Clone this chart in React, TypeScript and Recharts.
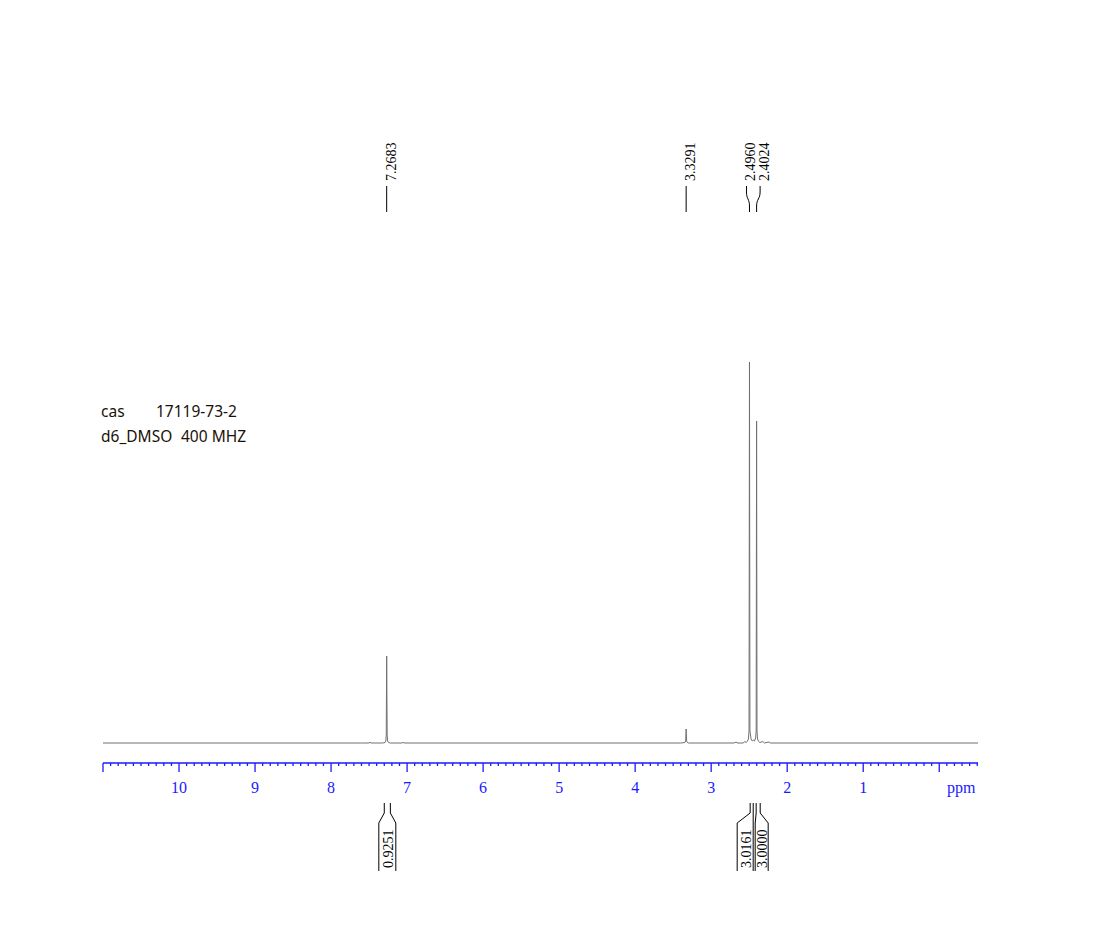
import React from 'react';
import { LineChart, Line, XAxis, YAxis, ReferenceDot, ReferenceArea } from 'recharts';

// Spectrum (chemical shift in ppm, relative intensity)
const PPM = [11.0, 7.6, 7.5, 7.49, 7.48, 7.32, 7.29, 7.28, 7.274, 7.2683, 7.262, 7.256, 7.245, 7.22, 7.06, 7.05, 7.04,
  3.40, 3.345, 3.335, 3.3291, 3.323, 3.313, 3.30,
  2.70, 2.67, 2.66, 2.58, 2.555, 2.54, 2.525, 2.51, 2.502, 2.496, 2.490, 2.475, 2.46, 2.445, 2.43, 2.415, 2.408, 2.4024, 2.397, 2.39, 2.375, 2.36, 2.32, 2.30, 2.24, 2.22,
  -0.51];
const INTENSITY = [0, 0, 0, 1, 0, 0, 0.5, 2, 8, 87, 8, 2, 0.5, 0, 0, 1, 0,
  0, 0.5, 2, 14, 2, 0.5, 0,
  0, 1, 0, 0, 1.5, 0.5, 1.5, 4, 12, 381, 12, 4, 2, 3, 2, 5, 12, 322, 12, 4, 1.5, 0.5, 1.5, 0, 1, 0,
  0];

// Peak picking labels
const PEAK_PPM = [7.2683, 3.3291, 2.4960, 2.4024];
const PEAK_LABELS = ['7.2683', '3.3291', '2.4960', '2.4024'];

// Integrals
const INTEGRAL_FROM = [7.30, 2.487, 2.408];
const INTEGRAL_TO = [7.22, 2.447, 2.355];
const INTEGRAL_VALUES = ['0.9251', '3.0161', '3.0000'];

// Axis
const MAJOR_TICK_LABELS = [10, 9, 8, 7, 6, 5, 4, 3, 2, 1];
const AXIS_UNIT = 'ppm';
const TICKS = Array.from({ length: 116 }, (_, i) => Math.round((11 - i * 0.1) * 10) / 10);

// Header text
const INFO_LINE1 = ['cas', '17119-73-2'];
const INFO_LINE2 = ['d6_DMSO', '400 MHZ'];

// styling (not data)
const PEAK_LABEL_SHIFT = [0, 0, -3, 3.5];
const INTEGRAL_DX = [0, -6.5, 3.5];
const INTEGRAL_HALF = [8.5, 8, 6.5];
const BLUE = '#1a1aff';
const SERIF = "'Liberation Serif', 'Times New Roman', serif";

const data = PPM.map((p, i) => ({ ppm: p, v: INTENSITY[i] }));

const AxisTick = (props: any) => {
  const { x, y, payload } = props;
  const v = payload.value as number;
  const r = Math.round(v);
  const isInt = Math.abs(v - r) < 1e-6;
  const len = isInt ? 9 : 3;
  return (
    <g>
      <line x1={x} x2={x} y1={y} y2={y + len} stroke={BLUE} strokeWidth={1.3} />
      {isInt && MAJOR_TICK_LABELS.includes(r) && (
        <text x={x} y={y + 30} textAnchor="middle" fontFamily={SERIF} fontSize={16} fill={BLUE}>
          {r}
        </text>
      )}
      {isInt && r === 0 && (
        <text x={x + 22} y={y + 30} textAnchor="middle" fontFamily={SERIF} fontSize={16} fill={BLUE}>
          {AXIS_UNIT}
        </text>
      )}
    </g>
  );
};

const PeakMark = ({ cx, cy, label, shift }: any) => {
  const top = cy - 557;
  const bottom = cy - 531;
  const lx = cx + shift;
  const d = shift === 0
    ? `M ${cx} ${top} L ${cx} ${bottom}`
    : `M ${lx} ${top} L ${lx} ${top + 6} C ${lx} ${top + 13}, ${cx} ${bottom - 13}, ${cx} ${bottom - 6} L ${cx} ${bottom}`;
  return (
    <g>
      <path d={d} stroke="#000" strokeWidth={1} fill="none" />
      <text
        x={lx + 9}
        y={top - 5}
        transform={`rotate(-90 ${lx + 9} ${top - 5})`}
        textAnchor="start"
        fontFamily={SERIF}
        fontSize={14}
        fill="#000"
      >
        {label}
      </text>
    </g>
  );
};

const IntegralMark = ({ x, y, width, height, value, dx, half }: any) => {
  const axisY = y + height;
  const xl = x;
  const xr = x + width;
  const c = (xl + xr) / 2 + dx;
  const y0 = axisY + 40;
  const y1 = axisY + 50;
  const y2 = axisY + 60;
  const y3 = axisY + 108;
  const d = `M ${xl} ${y0} L ${xl} ${y1} L ${c - half} ${y2} L ${c - half} ${y3} M ${xr} ${y0} L ${xr} ${y1} L ${c + half} ${y2} L ${c + half} ${y3}`;
  return (
    <g>
      <path d={d} stroke="#000" strokeWidth={1} fill="none" />
      <text
        x={c + 5.5}
        y={axisY + 105}
        transform={`rotate(-90 ${c + 5.5} ${axisY + 105})`}
        textAnchor="start"
        fontFamily={SERIF}
        fontSize={14}
        fill="#000"
      >
        {value}
      </text>
    </g>
  );
};

export default function App() {
  return (
    <div style={{ position: 'absolute', left: 0, top: 0, width: 1108, height: 952, background: '#fff' }}>
      <LineChart
        width={1108}
        height={952}
        data={data}
        margin={{ top: 130, right: 130, bottom: 149, left: 103 }}
      >
        <XAxis
          dataKey="ppm"
          type="number"
          domain={[-0.51, 11]}
          allowDataOverflow
          reversed
          ticks={TICKS}
          interval={0}
          tick={<AxisTick />}
          tickLine={false}
          tickSize={0}
          tickMargin={0}
          axisLine={{ stroke: BLUE, strokeWidth: 1.5 }}
          height={40}
        />
        <YAxis type="number" domain={[-20, 613]} hide width={0} allowDataOverflow />
        <Line
          type="linear"
          dataKey="v"
          stroke="#707070"
          strokeWidth={1}
          dot={false}
          isAnimationActive={false}
        />
        {PEAK_PPM.map((p, i) => (
          <ReferenceDot
            key={'pk' + i}
            x={p}
            y={0}
            r={0}
            ifOverflow="visible"
            shape={(props: any) => (
              <PeakMark cx={props.cx} cy={props.cy} label={PEAK_LABELS[i]} shift={PEAK_LABEL_SHIFT[i]} />
            )}
          />
        ))}
        {INTEGRAL_VALUES.map((val, i) => (
          <ReferenceArea
            key={'int' + i}
            x1={INTEGRAL_FROM[i]}
            x2={INTEGRAL_TO[i]}
            y1={-20}
            y2={-10}
            ifOverflow="visible"
            shape={(props: any) => (
              <IntegralMark
                x={props.x}
                y={props.y}
                width={props.width}
                height={props.height}
                value={val}
                dx={INTEGRAL_DX[i]}
                half={INTEGRAL_HALF[i]}
              />
            )}
          />
        ))}
      </LineChart>
      <svg
        width={1108}
        height={952}
        style={{ position: 'absolute', left: 0, top: 0, pointerEvents: 'none' }}
      >
        <g fontFamily="'Noto Sans', 'Open Sans', sans-serif" fontSize={15.5} fill="#1a1208">
          <text x={101} y={417}>{INFO_LINE1[0]}</text>
          <text x={156} y={417}>{INFO_LINE1[1]}</text>
          <text x={101} y={442}>{INFO_LINE2[0]}</text>
          <text x={181} y={442}>{INFO_LINE2[1]}</text>
        </g>
      </svg>
    </div>
  );
}
